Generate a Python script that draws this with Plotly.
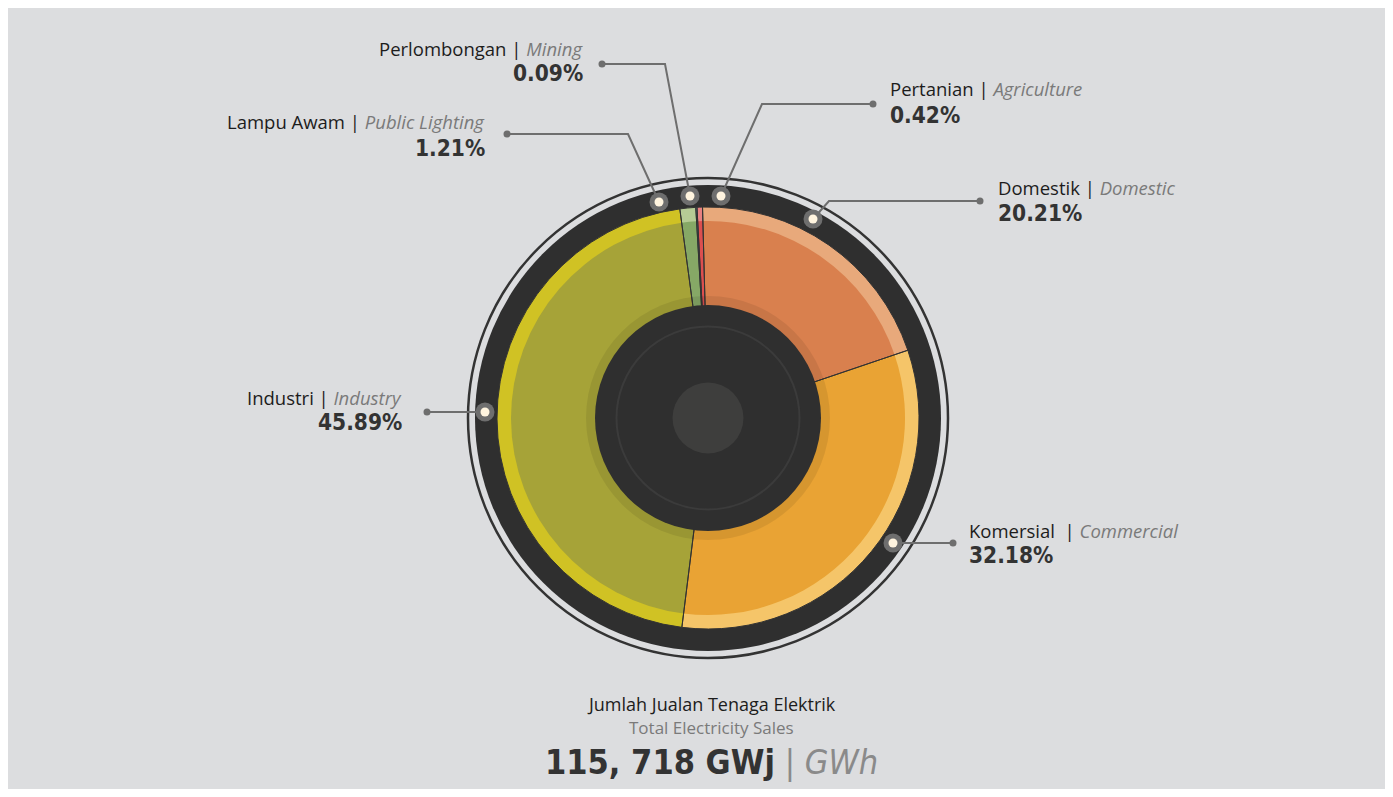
import plotly.graph_objects as go

# ---------------- data ----------------
sectors_ms = ["Pertanian", "Domestik", "Komersial ", "Industri", "Lampu Awam", "Perlombongan"]
sectors_en = ["Agriculture", "Domestic", "Commercial", "Industry", "Public Lighting", "Mining"]
shares = [0.42, 20.21, 32.18, 45.89, 1.21, 0.09]
total_title_ms = "Jumlah Jualan Tenaga Elektrik"
total_title_en = "Total Electricity Sales"
total_value = "115, 718"
unit_ms = "GWj"
unit_en = "GWh"

# ---------------- style ----------------
main_colors = ["#DC4F4F", "#D9804E", "#E9A334", "#A6A338", "#86A866", "#46B1D7"]
band_colors = ["#E88181", "#E8A97B", "#F5C569", "#D0C224", "#B6CB95", "#90D0E8"]
PAGE_MARGIN = 8                      # default body margin of the html page
W, H = 1393 - 2 * PAGE_MARGIN, 797 - 2 * PAGE_MARGIN
CX, CY = 708, 418                    # page pixel coordinates
R_PIE, R_BAND_IN = 211, 197
DARK = "#2F2F2F"
LINE = "#6E6E6E"
LABEL_FONT = "'Open Sans', Lato, 'Noto Sans', sans-serif"
NUM_FONT = ("'Noto Sans ExtraCondensed', 'Noto Sans Condensed', 'Liberation Sans Narrow', "
            "'DejaVu Sans Condensed', sans-serif")
COND = "font-stretch:condensed"

# callout layout (page pixel positions): leader path from ring dot, text anchor
callouts = [
    dict(path=[(721, 196), (762, 104), (873, 104)], tx=888, y1=89, y2=115, side="left"),
    dict(path=[(813, 219), (829, 201), (980, 201)], tx=996, y1=187, y2=213, side="left"),
    dict(path=[(893, 543), (953, 543)], tx=967, y1=530, y2=555, side="left"),
    dict(path=[(485, 412), (427, 412)], tx=404, y1=397, y2=422, side="right"),
    dict(path=[(659, 202), (628, 134), (507, 134)], tx=487, y1=121, y2=148, side="right"),
    dict(path=[(690, 196), (665, 64), (602, 64)], tx=585, y1=48, y2=73, side="right"),
]


def X(px):
    return (px - PAGE_MARGIN) / W


def Y(py):
    return 1 - (py - PAGE_MARGIN) / H


def circle(r, cx=CX, cy=CY, fill="rgba(0,0,0,0)", line_color=None, line_width=0, layer="above"):
    return dict(type="circle", xref="paper", yref="paper",
                x0=X(cx - r), x1=X(cx + r), y0=Y(cy + r), y1=Y(cy - r),
                fillcolor=fill, line=dict(color=line_color or "rgba(0,0,0,0)", width=line_width),
                layer=layer)


def domain(r):
    return dict(x=[X(CX - r), X(CX + r)], y=[Y(CY + r), Y(CY - r)])


labels = [f"{m.strip()} | {e}" for m, e in zip(sectors_ms, sectors_en)]
common = dict(labels=labels, values=shares, sort=False, direction="clockwise",
              rotation=-3, textinfo="none", hoverinfo="label+percent", showlegend=False)

fig = go.Figure()
fig.add_trace(go.Pie(**common, domain=domain(R_PIE), hole=0,
                     marker=dict(colors=band_colors, line=dict(width=0))))
fig.add_trace(go.Pie(**common, domain=domain(R_BAND_IN), hole=0,
                     marker=dict(colors=main_colors, line=dict(width=0))))
fig.add_trace(go.Pie(**common, domain=domain(R_PIE), hole=0,
                     marker=dict(colors=["rgba(0,0,0,0)"] * len(shares),
                                 line=dict(color="#333333", width=1))))

shapes = [
    circle(240, line_color="#333333", line_width=2.5, layer="below"),
    circle(233, fill=DARK, layer="below"),
    circle(122, fill="rgba(0,0,0,0.08)"),
    circle(113, fill=DARK),
    circle(91.5, line_color="#3B3B3B", line_width=2),
    circle(35.5, fill="#3E3E3D"),
]

annotations = []
for i, c in enumerate(callouts):
    pts = c["path"]
    d = "M " + " L ".join(f"{X(px)},{Y(py)}" for px, py in pts)
    shapes.append(dict(type="path", xref="paper", yref="paper", path=d,
                       line=dict(color=LINE, width=2), layer="above"))
    ex, ey = pts[-1]
    shapes.append(circle(3.5, ex, ey, fill=LINE))
    dx, dy = pts[0]
    shapes.append(circle(9.5, dx, dy, fill=LINE))
    shapes.append(circle(4.5, dx, dy, fill="#FFF4DF"))
    anchor = c["side"]
    annotations.append(dict(
        x=X(c["tx"]), y=Y(c["y1"]), xref="paper", yref="paper", showarrow=False,
        xanchor=anchor, yanchor="middle",
        text=f"{sectors_ms[i]} | <i><span style='color:#7A7A7A'>{sectors_en[i]}</span></i>",
        font=dict(family=LABEL_FONT, size=18.5, color="#1C1C1C")))
    annotations.append(dict(
        x=X(c["tx"]), y=Y(c["y2"]), xref="paper", yref="paper", showarrow=False,
        xanchor=anchor, yanchor="middle",
        text=f"<span style='{COND}'>{shares[i]:.2f}%</span>",
        font=dict(family=NUM_FONT, size=22.5, color="#333333", weight="bold")))

annotations += [
    dict(x=X(711), y=Y(704), xref="paper", yref="paper", showarrow=False,
         xanchor="center", yanchor="middle", text=total_title_ms,
         font=dict(family=LABEL_FONT, size=18, color="#1C1C1C")),
    dict(x=X(711), y=Y(727), xref="paper", yref="paper", showarrow=False,
         xanchor="center", yanchor="middle", text=total_title_en,
         font=dict(family=LABEL_FONT, size=17, color="#7A7A7A")),
    dict(x=X(711), y=Y(762), xref="paper", yref="paper", showarrow=False,
         xanchor="center", yanchor="middle",
         text=(f"<span style='{COND}'><b>{total_value} {unit_ms}</b> </span>"
               f"<span style='{COND};color:#8A8A8A'>| <i>{unit_en}</i></span>"),
         font=dict(family=NUM_FONT, size=34, color="#333333")),
]

fig.update_layout(width=W, height=H, margin=dict(l=0, r=0, t=0, b=0),
                  paper_bgcolor="#DCDDDF", plot_bgcolor="#DCDDDF",
                  shapes=shapes, annotations=annotations)

fig.write_html("out.html")
